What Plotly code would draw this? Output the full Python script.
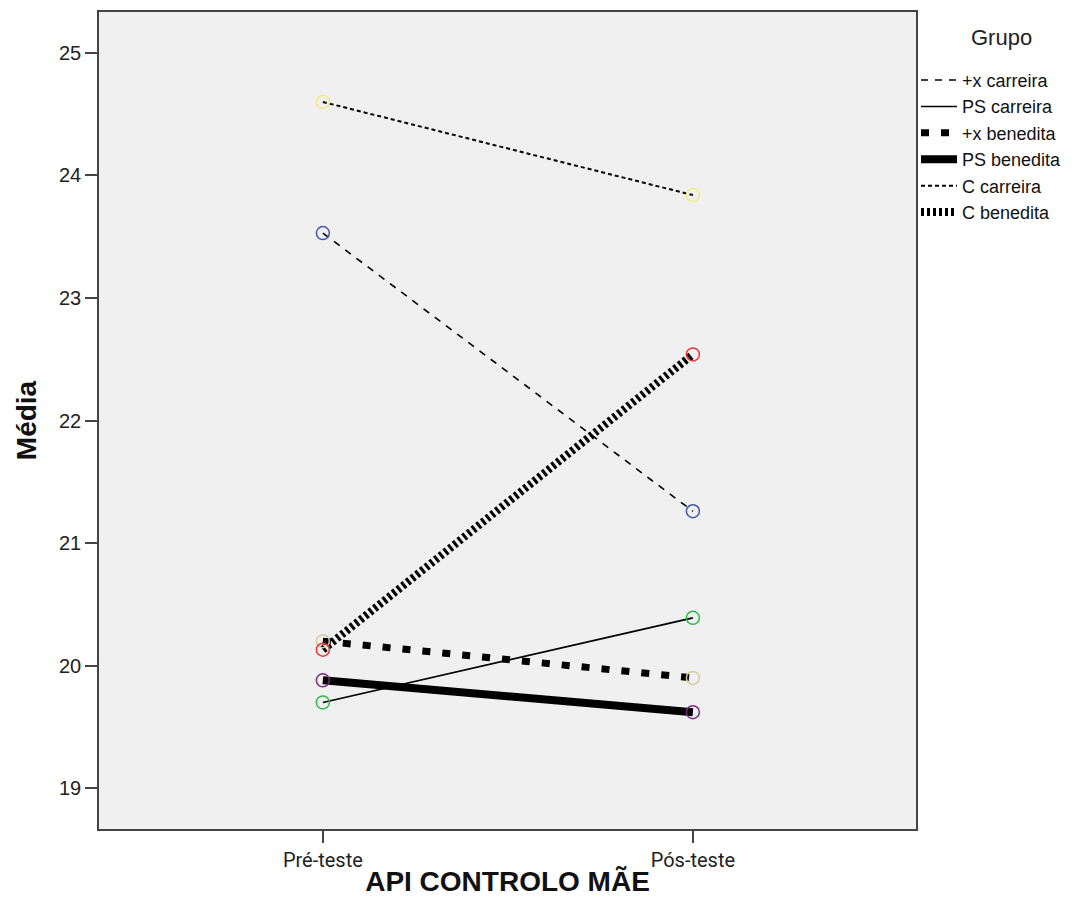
import plotly.graph_objects as go

categories = ["Pré-teste", "Pós-teste"]
groups = ["+x carreira", "PS carreira", "+x benedita", "PS benedita", "C carreira", "C benedita"]
pre_values = [23.53, 19.70, 20.20, 19.88, 24.60, 20.13]
post_values = [21.26, 20.39, 19.90, 19.62, 23.84, 22.54]
marker_colors = ["#3E58AC", "#2EB848", "#D3CE97", "#7C287D", "#F0EC80", "#EF3338"]
line_widths = [1.6, 1.6, 7, 8, 2, 8]
line_dashes = ["7px,7px", "solid", "8px,12px", "solid", "4px,3px", "3px,3px"]

fig = go.Figure()
for i, g in enumerate(groups):
    fig.add_trace(go.Scatter(
        x=categories, y=[pre_values[i], post_values[i]], mode="lines", name=g,
        line=dict(color="black", width=line_widths[i], dash=line_dashes[i]),
    ))
for i, g in enumerate(groups):
    fig.add_trace(go.Scatter(
        x=categories, y=[pre_values[i], post_values[i]], mode="markers", showlegend=False,
        marker=dict(symbol="circle-open", size=13, color=marker_colors[i], line=dict(width=1.5)),
    ))

fig.add_annotation(
    text="Grupo", xref="paper", yref="paper", x=1.105, y=0.969,
    xanchor="center", yanchor="middle", showarrow=False,
    font=dict(family="Arial, Liberation Sans, sans-serif", size=22, color="#222"),
)

fig.update_layout(
    width=1085, height=917,
    margin=dict(l=91, r=177, t=2, b=96),
    paper_bgcolor="white", plot_bgcolor="#F0F0F0",
    font=dict(family="Roboto, Arial, sans-serif", size=20, color="#222"),
    showlegend=True,
    legend=dict(
        x=1.0, xanchor="left", y=0.939, yanchor="top",
        font=dict(family="Arial, Liberation Sans, sans-serif", size=18, color="#111"),
        itemwidth=36, tracegroupgap=0, bgcolor="rgba(0,0,0,0)",
    ),
    xaxis=dict(
        type="category", range=[-0.605, 1.603], showgrid=False, zeroline=False,
        showline=True, linecolor="#444", linewidth=1.5, mirror=True,
        ticks="outside", ticklen=12, tickcolor="#444", tickwidth=1.5,
        tickfont=dict(size=20),
        title=dict(text="<b>API CONTROLO MÃE</b>", standoff=1,
                   font=dict(family="Arial, Liberation Sans, sans-serif", size=28, color="#111")),
    ),
    yaxis=dict(
        range=[18.667, 25.334], showgrid=False, zeroline=False,
        tickvals=[19, 20, 21, 22, 23, 24, 25],
        showline=True, linecolor="#444", linewidth=1.5, mirror=True,
        ticks="outside", ticklen=12, tickcolor="#444", tickwidth=1.5,
        tickfont=dict(family="Arial, Liberation Sans, sans-serif", size=20),
        title=dict(text="<b>Média</b>", standoff=14,
                   font=dict(family="Arial, Liberation Sans, sans-serif", size=28, color="#111")),
    ),
)

fig.write_html("out.html")
